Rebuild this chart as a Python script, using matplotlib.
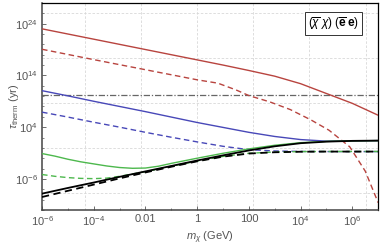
import numpy as np
import matplotlib
matplotlib.use("Agg")
import matplotlib.pyplot as plt
from matplotlib.ticker import FixedLocator, FixedFormatter, NullFormatter

plt.rcParams['font.family'] = ['Liberation Sans', 'DejaVu Sans']
plt.rcParams['mathtext.fontset'] = 'custom'
plt.rcParams['mathtext.rm'] = 'Liberation Sans'
plt.rcParams['mathtext.it'] = 'Liberation Sans:italic'
plt.rcParams['mathtext.bf'] = 'Liberation Sans:bold'

# log10(m_chi / GeV) grid at which the curves were read
log_m = [-6, -5, -4, -3, -2, -1, 0, 1, 2, 3, 4, 5, 6, 7]

# log10(tau_therm / yr)
red_solid = [23.0, 22.0, 21.0, 20.0, 19.0, 18.0, 17.0, 16.0, 14.95, 13.85, 12.4, 10.5, 8.6, 6.3]
blue_solid = [11.05, 10.05, 9.0, 8.0, 7.0, 5.95, 4.9, 3.95, 3.0, 2.2, 1.6, 1.3, 1.35, 1.4]
blue_dashed = [6.9, 5.95, 4.95, 4.0, 3.0, 2.05, 1.15, 0.3, -0.35, -0.6, -0.7, -0.72, -0.72, -0.72]
black_solid = [-8.85, -7.75, -6.7, -5.6, -4.55, -3.5, -2.45, -1.45, -0.5, 0.3, 0.9, 1.2, 1.35, 1.4]
black_dashed = [-9.5, -8.3, -7.1, -5.9, -4.75, -3.65, -2.6, -1.7, -1.1, -0.85, -0.75, -0.72, -0.72, -0.72]

# red dashed read on its own (finer) grid at the steep end
log_m_red_dashed = [-6, -4, -2, 0, 0.8, 1.5, 2, 2.8, 3.6, 4.4, 5.1, 5.9, 6.5, 7]
red_dashed = [19.05, 17.05, 15.1, 13.15, 12.5, 11.2, 10.1, 8.9, 7.4, 5.4, 3.4, 0.2, -4.5, -10.6]

# green curves have a dip at low mass, read on a finer grid
log_m_green = [-6, -5.5, -5, -4.5, -4, -3.5, -3, -2.5, -2, -1.5, -1, 0, 1, 2, 3, 4, 5, 6, 7]
green_solid = [-1.1, -1.6, -2.2, -2.7, -3.1, -3.5, -3.8, -3.95, -3.9, -3.55, -3.0, -2.0, -1.05, -0.2, 0.5, 1.0, 1.25, 1.35, 1.4]
green_dashed = [-5.15, -5.5, -5.75, -5.9, -5.95, -5.85, -5.5, -5.05, -4.6, -4.1, -3.55, -2.55, -1.65, -1.05, -0.8, -0.72, -0.7, -0.7, -0.7]

t_universe = 1.4e10  # yr

x_ticks = [1e-6, 1e-4, 1e-2, 1, 1e2, 1e4, 1e6]
x_labels = [r'$10^{-6}$', r'$10^{-4}$', '0.01', '1', '100', r'$10^{4}$', r'$10^{6}$']
y_ticks = [1e-6, 1e4, 1e14, 1e24]
y_labels = [r'$10^{-6}$', r'$10^{4}$', r'$10^{14}$', r'$10^{24}$']

red = '#b8443f'
blue = '#4848b8'
green = '#4db84d'
lw = 1.0
dash = (0, (4, 2.5))

fig = plt.figure(figsize=(3.82, 2.47), dpi=100)
ax = fig.add_axes([0.110, 0.150, 0.880, 0.838])

m = 10.0 ** np.array(log_m)
mg = 10.0 ** np.array(log_m_green)
mr = 10.0 ** np.array(log_m_red_dashed)

ax.axhline(t_universe, color='#666666', lw=0.9, ls=(0, (5, 1.5, 1, 1.5)), zorder=2)

ax.plot(m, 10.0 ** np.array(red_solid), color=red, lw=lw, zorder=3)
ax.plot(mr, 10.0 ** np.array(red_dashed), color=red, lw=lw, ls=dash, zorder=3)
ax.plot(m, 10.0 ** np.array(blue_solid), color=blue, lw=lw, zorder=3)
ax.plot(m, 10.0 ** np.array(blue_dashed), color=blue, lw=lw, ls=dash, zorder=3)
ax.plot(mg, 10.0 ** np.array(green_solid), color=green, lw=lw, zorder=3)
ax.plot(mg, 10.0 ** np.array(green_dashed), color=green, lw=lw, ls=dash, zorder=3)
ax.plot(m, 10.0 ** np.array(black_solid), color='black', lw=1.3, zorder=4)
ax.plot(m, 10.0 ** np.array(black_dashed), color='black', lw=1.3, ls=dash, zorder=4)

ax.set_xscale('log')
ax.set_yscale('log')
ax.set_xlim(1e-6, 1e7)
ax.set_ylim(1e-12, 1e28)

# gridlines sit at powers of e, as in the original
for k in range(-2, 4):
    ax.axvline(np.exp(5 * k), color='#d8d8d8', lw=0.6, ls=(0, (3, 2)), zorder=1)
for k in range(-1, 4):
    ax.axhline(np.exp(20 * k), color='#d8d8d8', lw=0.6, ls=(0, (3, 2)), zorder=1)

ax.xaxis.set_major_locator(FixedLocator(x_ticks))
ax.xaxis.set_major_formatter(FixedFormatter(x_labels))
ax.yaxis.set_major_locator(FixedLocator(y_ticks))
ax.yaxis.set_major_formatter(FixedFormatter(y_labels))
ax.xaxis.set_minor_locator(FixedLocator([10.0 ** k for k in range(-6, 8)]))
ax.yaxis.set_minor_locator(FixedLocator([10.0 ** k for k in range(-12, 29, 2)]))
ax.xaxis.set_minor_formatter(NullFormatter())
ax.yaxis.set_minor_formatter(NullFormatter())
ax.tick_params(which='both', direction='in', colors='#555555', labelsize=8,
               top=False, right=False)
ax.tick_params(which='major', length=3, width=0.6, pad=3)
ax.tick_params(which='minor', length=1.5, width=0.5)

for s in ax.spines.values():
    s.set_color('black')
    s.set_linewidth(0.9)
ax.spines['left'].set_color('#444444')
ax.spines['bottom'].set_color('#444444')
ax.spines['left'].set_linewidth(1.1)
ax.spines['bottom'].set_linewidth(1.1)

ax.set_xlabel(r'$m_{\chi}$ (GeV)', fontsize=8, color='#555555', labelpad=1)
ax.set_ylabel(r'$\tau_{\mathrm{therm}}$ (yr)', fontsize=8, color='#555555')
ax.yaxis.set_label_coords(-0.062, 0.5)

ax.text(0.943, 0.9, r'$(\overline{\chi}\;\chi)\;(\overline{\mathbf{e}}\;\mathbf{e})$',
        transform=ax.transAxes, ha='right', va='center', fontsize=8.5, color='black',
        bbox=dict(boxstyle='square,pad=0.25', fc='white', ec='#333333', lw=0.7), zorder=6)

fig.savefig('out.png', dpi=100)
